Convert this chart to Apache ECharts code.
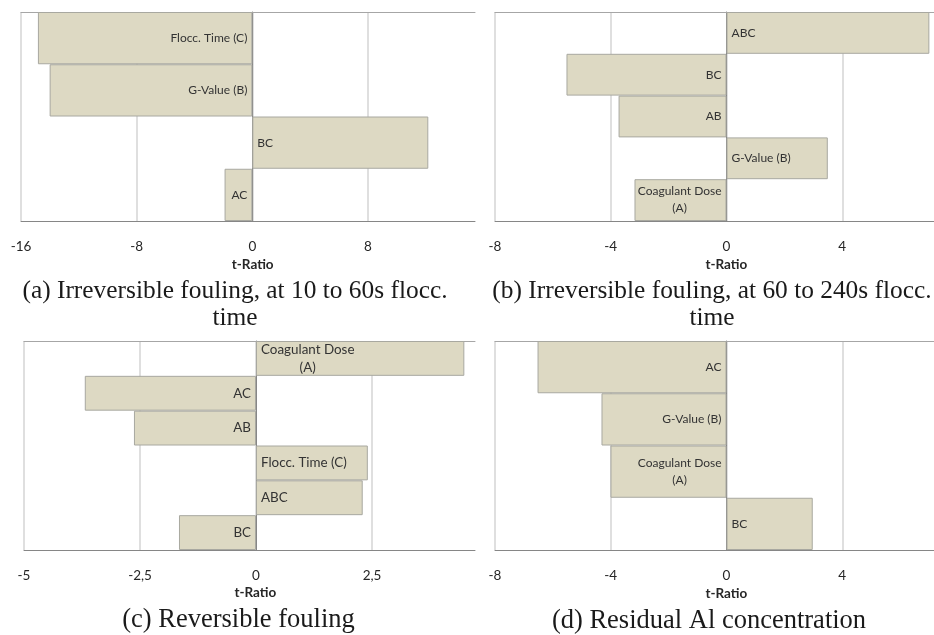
<!DOCTYPE html>
<html><head><meta charset="utf-8">
<script src="https://cdn.jsdelivr.net/npm/echarts@6/dist/echarts.min.js"></script>
<style>html,body{margin:0;padding:0;background:#fff}#c{width:934px;height:635px}</style>
</head><body><div id="c"></div>
<script>
// ---- data ----
const catsA = ['AC', 'BC', 'G-Value (B)', 'Flocc. Time (C)'];
const valsA = [-1.92, 12.17, -14.02, -14.83];
const ticksA = [-16, -8, 0, 8];
const maxA = 15.4;

const catsB = ['Coagulant Dose\n(A)', 'G-Value (B)', 'AB', 'BC', 'ABC'];
const valsB = [-3.18, 3.50, -3.73, -5.53, 7.01];
const ticksB = [-8, -4, 0, 4];
const maxB = 7.17;

const catsC = ['BC', 'ABC', 'Flocc. Time (C)', 'AB', 'AC', 'Coagulant Dose\n(A)'];
const valsC = [-1.66, 2.30, 2.41, -2.63, -3.69, 4.49];
const ticksC = [-5, -2.5, 0, 2.5];
const maxC = 4.72;

const catsD = ['BC', 'Coagulant Dose\n(A)', 'G-Value (B)', 'AC'];
const valsD = [2.98, -4.01, -4.32, -6.53];
const ticksD = [-8, -4, 0, 4];
const maxD = 7.17;

const axisTitle = 't-Ratio';
const captions = [
  '(a) Irreversible fouling, at 10 to 60s flocc.\ntime',
  '(b) Irreversible fouling, at 60 to 240s flocc.\ntime',
  '(c) Reversible fouling',
  '(d) Residual Al concentration'
];

// ---- layout / style ----
const panels = [
  {cats: catsA, vals: valsA, ticks: ticksA, max: maxA, grid: {left: 21, top: 12, width: 454, height: 209}, fs: 12, lh: 17, zero: 252.7, ty: 265, cx: 235, cy: 278, cfs: 25.4},
  {cats: catsB, vals: valsB, ticks: ticksB, max: maxB, grid: {left: 495, top: 12, width: 439, height: 209}, fs: 12, lh: 17, zero: 726.3, ty: 265, cx: 712, cy: 278, cfs: 25.4},
  {cats: catsC, vals: valsC, ticks: ticksC, max: maxC, grid: {left: 24, top: 341, width: 451, height: 209}, fs: 13.4, lh: 18, zero: 255.3, ty: 593, cx: 238.5, cy: 607, cfs: 26.5},
  {cats: catsD, vals: valsD, ticks: ticksD, max: maxD, grid: {left: 495, top: 341, width: 439, height: 209}, fs: 12, lh: 17, zero: 726.3, ty: 594, cx: 709, cy: 608, cfs: 26.5}
];
const FONT = 'Lato';
const ctx = document.createElement('canvas').getContext('2d');
function maxLineWidth(text, fs) {
  ctx.font = fs + 'px ' + FONT;
  return Math.max.apply(null, text.split('\n').map(s => ctx.measureText(s).width));
}

const grid = [], xAxis = [], yAxis = [], series = [], graphic = [];
panels.forEach((p, i) => {
  grid.push(Object.assign({containLabel: false}, p.grid));
  const interval = p.ticks[1] - p.ticks[0];
  xAxis.push({
    type: 'value', gridIndex: i, position: 'bottom',
    min: p.ticks[0], max: p.max, interval: interval,
    axisLine: {show: true, lineStyle: {color: '#868686', width: 1}},
    axisTick: {show: false},
    axisLabel: {
      show: true, margin: 19, fontFamily: FONT, fontSize: 13.5, color: '#262626',
      showMaxLabel: false,
      formatter: v => String(v).replace('.', ',')
    },
    splitLine: {show: true, showMinLine: true, showMaxLine: false, lineStyle: {color: '#d4d4d4', width: 1.5}}
  });
  xAxis.push({
    type: 'value', gridIndex: i, position: 'top',
    min: p.ticks[0], max: p.max, interval: interval,
    axisLine: {show: true, lineStyle: {color: '#a6a6a6', width: 1}},
    axisTick: {show: false}, axisLabel: {show: false}, splitLine: {show: false}
  });
  yAxis.push({
    type: 'category', gridIndex: i, data: p.cats,
    axisLine: {show: true, onZero: true, onZeroAxisIndex: 2 * i, lineStyle: {color: '#868686', width: 1}},
    axisTick: {show: false}, axisLabel: {show: false}, splitLine: {show: false}
  });
  series.push({
    type: 'bar', xAxisIndex: 2 * i, yAxisIndex: i,
    barCategoryGap: '0%',
    itemStyle: {color: '#DDD9C3', borderColor: '#A8A8A0', borderWidth: 1},
    label: {
      show: true, formatter: '{b}', distance: 5,
      fontFamily: FONT, fontSize: p.fs, lineHeight: p.lh, color: '#333'
    },
    data: p.vals.map((v, j) => {
      const name = p.cats[j];
      const neg = v < 0;
      const label = {position: neg ? 'insideRight' : 'insideLeft'};
      if (name.indexOf('\n') >= 0) {
        const hw = maxLineWidth(name, p.fs) / 2;
        label.align = 'center';
        label.offset = [neg ? -hw : hw, 0];
      }
      return {value: v, label: label};
    }),
    silent: true, animation: false
  });
  graphic.push({
    type: 'text', x: p.zero, y: p.ty,
    style: {text: axisTitle, font: 'bold 13.5px ' + FONT, fill: '#262626', align: 'center', verticalAlign: 'middle'}
  });
  graphic.push({
    type: 'text', x: p.cx, y: p.cy,
    style: {text: captions[i], font: p.cfs + 'px "Liberation Serif"', lineHeight: 27, fill: '#1a1a1a', align: 'center', verticalAlign: 'top'}
  });
});

const chart = echarts.init(document.getElementById('c'), null, {renderer: 'canvas'});
chart.setOption({animation: false, backgroundColor: '#fff', grid, xAxis, yAxis, series, graphic});
</script>
</body></html>
